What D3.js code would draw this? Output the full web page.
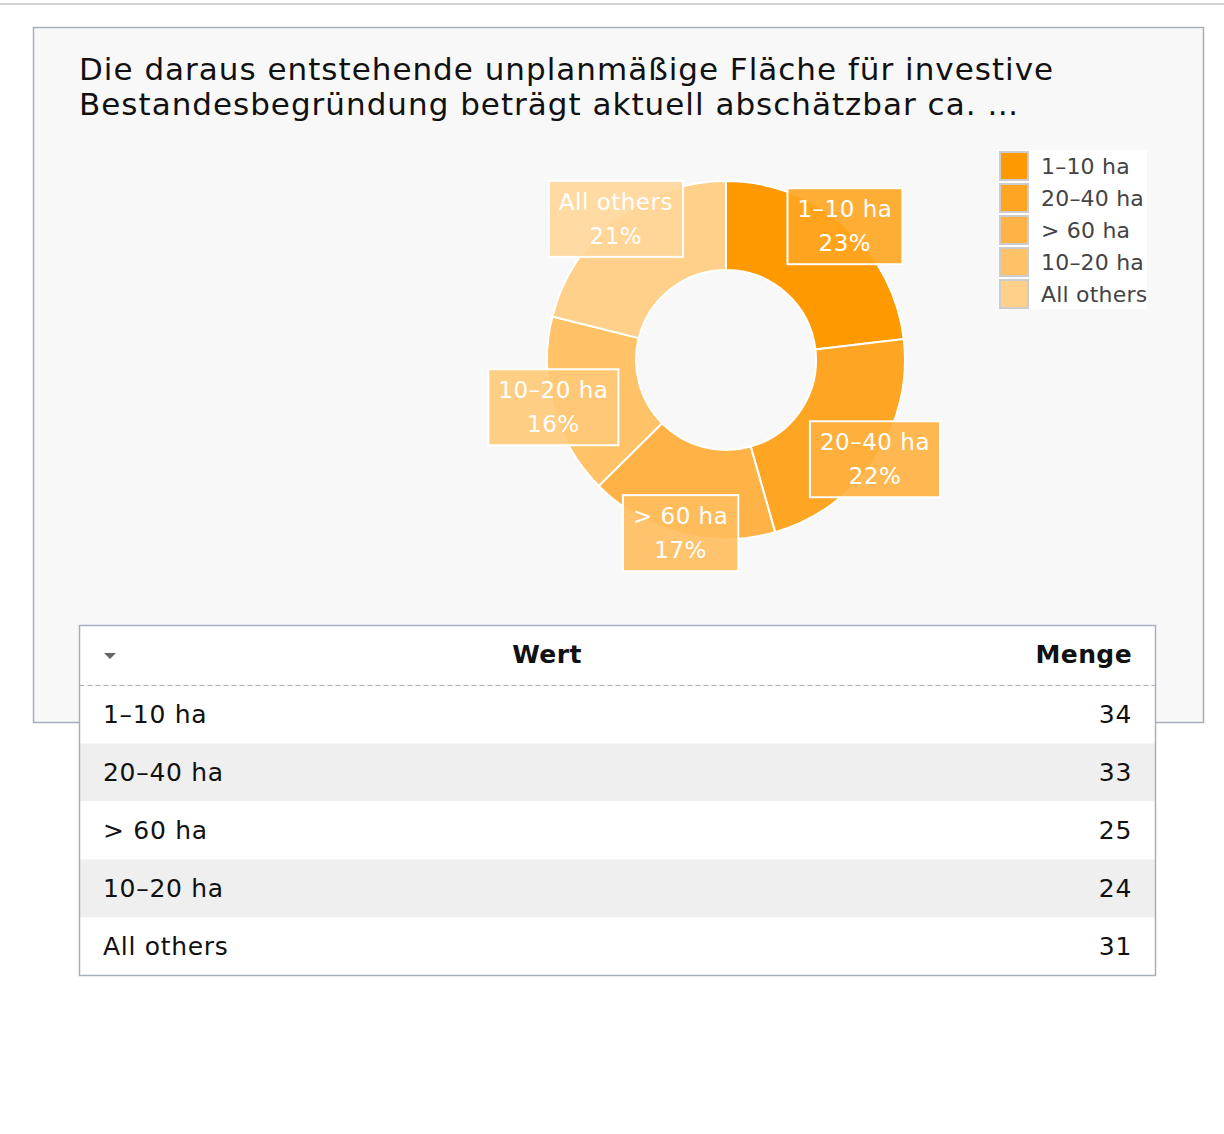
<!DOCTYPE html>
<html>
<head>
<meta charset="utf-8">
<script src="https://cdn.jsdelivr.net/npm/d3@7"></script>
<style>
  body { margin: 0; background: #fff; }
  svg text { font-family: "DejaVu Sans", Verdana, sans-serif; }
</style>
</head>
<body>
<div id="chart"></div>
<script>
// data
let categories = ["1\u201310 ha", "20\u201340 ha", "> 60 ha", "10\u201320 ha", "All others"];
let amounts = [34, 33, 25, 24, 31];
let sliceColors = ["#ff9900", "#ffa524", "#ffb347", "#ffc266", "#ffd08a"];
let titleLines = ["Die daraus entstehende unplanm\u00e4\u00dfige Fl\u00e4che f\u00fcr investive",
                  "Bestandesbegr\u00fcndung betr\u00e4gt aktuell absch\u00e4tzbar ca. \u2026"];
let tableHeader = ["Wert", "Menge"];

let width = 1224, height = 1134;
let cx = 726, cy = 360, outerR = 179, innerR = 90;

let svg = d3.select("#chart").append("svg")
    .attr("width", width)
    .attr("height", height);

// thin grey bar at the very top
svg.append("rect").attr("x", 0).attr("y", 3).attr("width", width).attr("height", 2).attr("fill", "#d4d4d4");

// panel
svg.append("rect")
    .attr("x", 33.5).attr("y", 27.5)
    .attr("width", 1170).attr("height", 695)
    .attr("fill", "#f8f8f8")
    .attr("stroke", "#a6aebf")
    .attr("stroke-width", 1.5);

// title
svg.append("g").selectAll("text")
    .data(titleLines)
    .join("text")
    .attr("x", 79)
    .attr("y", (d, i) => 80 + i * 35)
    .attr("font-size", 31)
    .attr("letter-spacing", 1)
    .attr("fill", "#111")
    .text(d => d);

// donut
let total = d3.sum(amounts);
let pie = d3.pie().sort(null).value(d => d.value);
let arcs = pie(categories.map((c, i) => ({name: c, value: amounts[i], color: sliceColors[i]})));
let arc = d3.arc().innerRadius(innerR).outerRadius(outerR);

let g = svg.append("g").attr("transform", "translate(" + cx + "," + cy + ")");

g.selectAll("path")
    .data(arcs)
    .join("path")
    .attr("d", arc)
    .attr("fill", d => d.data.color)
    .attr("stroke", "#fff")
    .attr("stroke-width", 2);

// labels sit on the outer edge at the middle angle
let labelArc = d3.arc().innerRadius(outerR).outerRadius(outerR);
let labels = g.selectAll("g.lbl")
    .data(arcs)
    .join("g")
    .attr("class", "lbl")
    .attr("transform", d => "translate(" + labelArc.centroid(d) + ")");

labels.each(function (d) {
    let lg = d3.select(this);
    let rect = lg.append("rect");
    let t1 = lg.append("text").attr("text-anchor", "middle").attr("y", -9)
        .attr("font-size", 23).attr("letter-spacing", 0.5).attr("fill", "#fff").text(d.data.name);
    let t2 = lg.append("text").attr("text-anchor", "middle").attr("y", 25)
        .attr("font-size", 23).attr("letter-spacing", 0.5).attr("fill", "#fff")
        .text(Math.round(d.data.value / total * 100) + "%");
    let w = Math.max(t1.node().getComputedTextLength(), t2.node().getComputedTextLength()) + 20;
    rect.attr("x", -w / 2).attr("y", -38).attr("width", w).attr("height", 76)
        .attr("fill", d3.interpolateRgb(d.data.color, "#ffffff")(0.12))
        .attr("fill-opacity", 0.9)
        .attr("stroke", "#fff")
        .attr("stroke-width", 2);
});

// legend
let legend = svg.append("g").attr("transform", "translate(998,150)");
legend.append("rect").attr("width", 149).attr("height", 159).attr("fill", "#fff");
let items = legend.selectAll("g")
    .data(categories)
    .join("g")
    .attr("transform", (d, i) => "translate(0," + (i * 32) + ")");
items.append("rect")
    .attr("x", 2).attr("y", 2).attr("width", 28).attr("height", 28)
    .attr("fill", (d, i) => sliceColors[i])
    .attr("stroke", "#cccccc")
    .attr("stroke-width", 2);
items.append("text")
    .attr("x", 43).attr("y", 24)
    .attr("font-size", 22)
    .attr("letter-spacing", 0.2)
    .attr("fill", "#444")
    .text(d => d);

// table
let tx = 79.5, ty = 625.5, tw = 1076, headH = 60, rowH = 58;
let table = svg.append("g");
table.append("rect").attr("x", tx).attr("y", ty).attr("width", tw)
    .attr("height", headH + rowH * categories.length).attr("fill", "#fff");

table.selectAll("rect.row")
    .data(categories)
    .join("rect")
    .attr("class", "row")
    .attr("x", tx).attr("y", (d, i) => ty + headH + i * rowH)
    .attr("width", tw).attr("height", rowH)
    .attr("fill", (d, i) => i % 2 ? "#efefef" : "#fff");

table.append("line")
    .attr("x1", tx).attr("x2", tx + tw)
    .attr("y1", ty + headH).attr("y2", ty + headH)
    .attr("stroke", "#a6aebf").attr("stroke-dasharray", "5,3");

table.append("path")
    .attr("d", "M104,653 L116,653 L110,659 Z")
    .attr("fill", "#666");

table.append("text").attr("x", 547).attr("y", 663).attr("text-anchor", "middle")
    .attr("font-size", 25).attr("font-weight", "bold").attr("letter-spacing", 0.4)
    .attr("fill", "#111").text(tableHeader[0]);
table.append("text").attr("x", 1132).attr("y", 663).attr("text-anchor", "end")
    .attr("font-size", 25).attr("font-weight", "bold").attr("letter-spacing", 0.4)
    .attr("fill", "#111").text(tableHeader[1]);

table.selectAll("text.name")
    .data(categories)
    .join("text")
    .attr("class", "name")
    .attr("x", 103).attr("y", (d, i) => ty + headH + i * rowH + 37)
    .attr("font-size", 25).attr("letter-spacing", 0.7)
    .attr("fill", "#111").text(d => d);

table.selectAll("text.val")
    .data(amounts)
    .join("text")
    .attr("class", "val")
    .attr("x", 1132).attr("y", (d, i) => ty + headH + i * rowH + 37)
    .attr("text-anchor", "end")
    .attr("font-size", 25).attr("letter-spacing", 0.7)
    .attr("fill", "#111").text(d => d);

table.append("rect").attr("x", tx).attr("y", ty).attr("width", tw)
    .attr("height", headH + rowH * categories.length)
    .attr("fill", "none").attr("stroke", "#a6aebf").attr("stroke-width", 1.5);
</script>
</body>
</html>
